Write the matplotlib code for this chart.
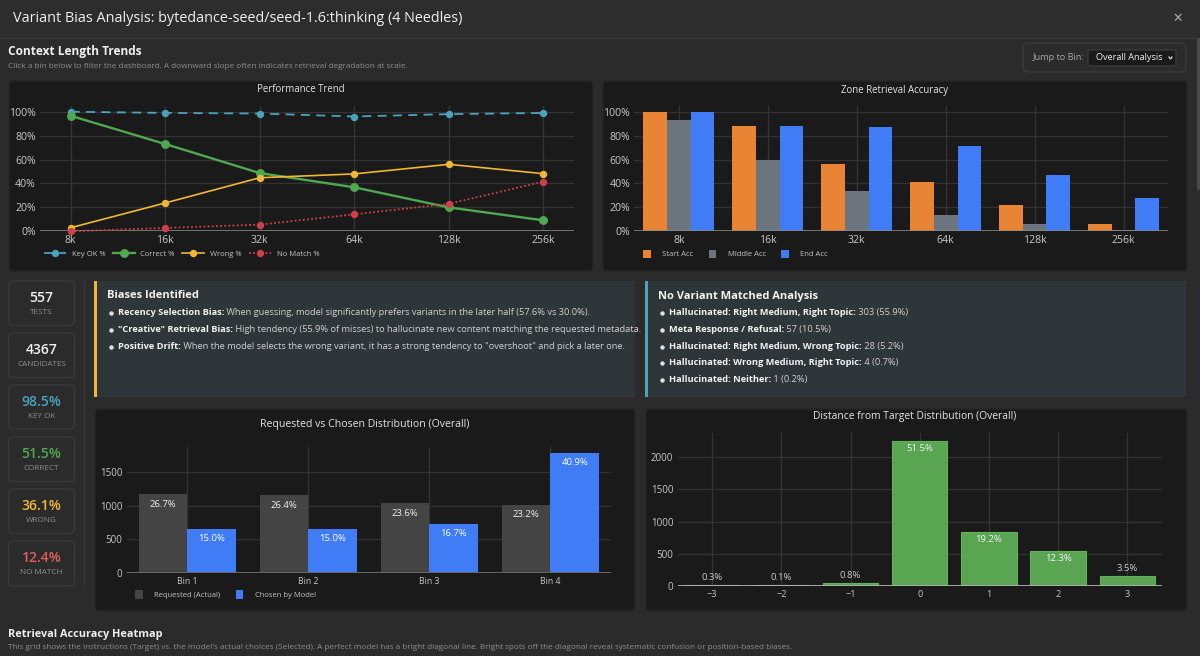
import matplotlib
matplotlib.use("Agg")
import matplotlib.pyplot as plt
from matplotlib.patches import FancyBboxPatch, Rectangle
from matplotlib.ticker import FuncFormatter

plt.rcParams['font.family'] = ['Open Sans', 'DejaVu Sans']

W, H = 1200, 656

# ---------- data ----------
context_bins = ["8k", "16k", "32k", "64k", "128k", "256k"]
key_ok = [100, 99, 98.5, 96, 98, 99]
correct = [96.6, 73, 48.7, 36.8, 20, 9.2]
wrong = [3, 23.7, 44.8, 48, 56, 48.2]
no_match = [0, 2.8, 5.6, 14.2, 23, 41.5]

start_acc = [100, 88, 56.5, 41, 21.7, 6]
middle_acc = [93.5, 60, 33.3, 13.5, 6, 1]
end_acc = [99.5, 88, 87.5, 71, 47.5, 27.7]

dist_bins = ["Bin 1", "Bin 2", "Bin 3", "Bin 4"]
requested = [1166, 1153, 1031, 1013]
chosen = [655, 655, 729, 1786]
requested_lbl = ["26.7%", "26.4%", "23.6%", "23.2%"]
chosen_lbl = ["15.0%", "15.0%", "16.7%", "40.9%"]

offsets = [-3, -2, -1, 0, 1, 2, 3]
offset_counts = [13, 4, 35, 2249, 838, 537, 153]
offset_lbl = ["0.3%", "0.1%", "0.8%", "51.5%", "19.2%", "12.3%", "3.5%"]

stat_values = ["557", "4367", "98.5%", "51.5%", "36.1%", "12.4%"]
stat_labels = ["TESTS", "CANDIDATES", "KEY OK", "CORRECT", "WRONG", "NO MATCH"]

biases = [
    ("Recency Selection Bias:", " When guessing, model significantly prefers variants in the later half (57.6% vs 30.0%)."),
    ("\"Creative\" Retrieval Bias:", " High tendency (55.9% of misses) to hallucinate new content matching the requested metadata."),
    ("Positive Drift:", " When the model selects the wrong variant, it has a strong tendency to \"overshoot\" and pick a later one."),
]
no_variant = [
    ("Hallucinated: Right Medium, Right Topic:", " 303 (55.9%)"),
    ("Meta Response / Refusal:", " 57 (10.5%)"),
    ("Hallucinated: Right Medium, Wrong Topic:", " 28 (5.2%)"),
    ("Hallucinated: Wrong Medium, Right Topic:", " 4 (0.7%)"),
    ("Hallucinated: Neither:", " 1 (0.2%)"),
]

# ---------- colours ----------
PAGE = "#2b2b2b"
PANEL = "#1a1a1a"
CARD = "#2f363a"
GRID = "#333333"
ZERO = "#8a8a8a"
TICK = "#c8c8c8"
C_KEY, C_OK, C_WRONG, C_NOMATCH = "#4aa3bd", "#4fa94f", "#f0b733", "#d0404c"
C_START, C_MIDDLE, C_END = "#e88434", "#6c757d", "#3f7cf5"
C_REQ, C_GREEN = "#444444", "#59a552"

fig = plt.figure(figsize=(W / 100, H / 100), dpi=100, facecolor=PAGE)
bg = fig.add_axes([0, 0, 1, 1], zorder=0)
bg.set_xlim(0, W)
bg.set_ylim(H, 0)
bg.axis("off")


def box(x0, y0, x1, y1, fc, ec="none", r=4, lw=1.0, z=1):
    bg.add_patch(FancyBboxPatch((x0 + r, y0 + r), x1 - x0 - 2 * r, y1 - y0 - 2 * r,
                                boxstyle=f"round,pad={r},rounding_size={r}",
                                fc=fc, ec=ec, lw=lw, zorder=z))


def txt(x, y, s, size=8, color="#dddddd", weight="normal", ha="left", va="center"):
    return bg.text(x, y, s, fontsize=size, color=color, fontweight=weight, ha=ha, va=va, zorder=5)


def run(x, y, bold, rest, size=6.7):
    r = fig.canvas.get_renderer()
    t = txt(x, y, bold, size=size, color="#f2f2f2", weight="bold")
    x1 = t.get_window_extent(r).x1
    txt(x1, y, rest, size=size, color="#d0d0d0")


def plot_axes(x0, x1, ytop, ybot):
    ax = fig.add_axes([x0 / W, 1 - ybot / H, (x1 - x0) / W, (ybot - ytop) / H], zorder=3)
    ax.set_facecolor("none")
    for s in ax.spines.values():
        s.set_visible(False)
    ax.set_axisbelow(True)
    ax.grid(True, color=GRID, lw=1)
    ax.tick_params(length=0, labelsize=7.6, labelcolor=TICK, pad=3)
    return ax


# ---------- page chrome ----------
bg.add_patch(Rectangle((0, 0), W, 37, fc="#2d2d2d", ec="none", zorder=1))
bg.plot([0, W], [37.5, 37.5], color="#3a3a3a", lw=1, zorder=2)
txt(13, 19, "Variant Bias Analysis: bytedance-seed/seed-1.6:thinking (4 Needles)", size=10.4, color="#f0f0f0", weight="medium")
txt(1178, 18, "\u2715", size=9, color="#a8a8a8", ha="center", weight="bold")
bg.add_patch(Rectangle((1197, 38), 3, 152, fc="#4a4a4a", ec="none", zorder=2))

txt(8, 52, "Context Length Trends", size=8.6, color="#f0f0f0", weight="bold")
txt(8, 66, "Click a bin below to filter the dashboard. A downward slope often indicates retrieval degradation at scale.",
    size=5.9, color="#8f8f8f")

box(1023, 43, 1186, 72, "#2b2b2b", ec="#3c3c3c", r=6)
txt(1033, 58, "Jump to Bin:", size=6.6, color="#a8a8a8")
box(1088, 50, 1176, 66, "#1a1a1a", ec="#3a3a3a", r=2)
txt(1096, 58, "Overall Analysis", size=6.6, color="#eeeeee")
bg.plot([1169, 1170.5, 1172], [57, 59, 57], color="#dddddd", lw=0.9, zorder=5)

# panels
box(9, 81, 593, 271, PANEL, ec="#262626")
box(603, 81, 1187, 271, PANEL, ec="#262626")
box(95, 409, 635, 611, PANEL, ec="#262626")
box(646, 409, 1187, 611, PANEL, ec="#262626")

txt(301, 90, "Performance Trend", size=6.9, color="#e4e4e4", ha="center")
txt(895, 90, "Zone Retrieval Accuracy", size=6.9, color="#e4e4e4", ha="center")
txt(365, 424, "Requested vs Chosen Distribution (Overall)", size=7.6, color="#e4e4e4", ha="center")
txt(915, 417, "Distance from Target Distribution (Overall)", size=7.4, color="#e4e4e4", ha="center")

# stat cards
card_y = [(281, 325.5), (333, 377.5), (385, 429), (437, 481.5), (489, 533.5), (541, 586)]
card_col = ["#f0f0f0", "#f0f0f0", "#4aa3bd", "#4fa94f", "#f0b733", "#e0605c"]
for (y0, y1), v, l, c in zip(card_y, stat_values, stat_labels, card_col):
    box(8.5, y0, 74.5, y1, "#2b2b2b", ec="#3a3a3a", r=5)
    txt(41.5, y0 + 17, v, size=10, color=c, weight="semibold", ha="center")
    txt(41.5, y0 + 32, l, size=5.9, color="#8f8f8f", ha="center")
bg.plot([84, 84], [281, 586], color="#363636", lw=1, zorder=2)

# insight cards
bg.add_patch(Rectangle((95, 281), 540, 116, fc=CARD, ec="none", zorder=1))
bg.add_patch(Rectangle((94, 281), 3, 116, fc="#f0b733", ec="none", zorder=2))
txt(107, 296, "Biases Identified", size=8, color="#f2f2f2", weight="bold")
for y, (b, rest) in zip([312.5, 329.5, 346.5], biases):
    bg.plot([110.5], [y], "o", ms=2.2, color="#e0e0e0", zorder=5)
    run(118, y, b, rest)

bg.add_patch(Rectangle((646, 281), 540, 116, fc=CARD, ec="none", zorder=1))
bg.add_patch(Rectangle((645, 281), 3, 116, fc="#4aa3bd", ec="none", zorder=2))
txt(658, 296, "No Variant Matched Analysis", size=8, color="#f2f2f2", weight="bold")
for y, (b, rest) in zip([312.5, 329.5, 346.5, 362.5, 379.5], no_variant):
    bg.plot([661.5], [y], "o", ms=2.2, color="#e0e0e0", zorder=5)
    run(669, y, b, rest)

txt(8, 634, "Retrieval Accuracy Heatmap", size=7.8, color="#f0f0f0", weight="bold")
txt(8, 647.5, "This grid shows the instructions (Target) vs. the model's actual choices (Selected). A perfect model has a bright diagonal line. "
    "Bright spots off the diagonal reveal systematic confusion or position-based biases.", size=5.9, color="#8f8f8f")

pct = FuncFormatter(lambda v, _: f"{int(v)}%")
legend_kw = dict(frameon=False, fontsize=5.5, labelcolor="#c4c4c4", borderpad=0, borderaxespad=0)


def legend_at(ax, handles, labels, px, py, **kw):
    opts = dict(legend_kw)
    opts.update(kw)
    ax.legend(handles, labels, loc="center left",
              bbox_to_anchor=(px, py), bbox_transform=bg.transData, **opts)


# ---------- performance trend ----------
ax = plot_axes(40, 574, 106, 231.3)
xs = list(range(len(context_bins)))
h1, = ax.plot(xs, key_ok, color=C_KEY, lw=1.3, ls=(0, (5, 3.5)), marker="o", ms=4.3, label="Key OK %")
h2, = ax.plot(xs, correct, color=C_OK, lw=1.7, marker="o", ms=5.4, label="Correct %")
h3, = ax.plot(xs, wrong, color=C_WRONG, lw=1.2, marker="o", ms=4.3, label="Wrong %")
h4, = ax.plot(xs, no_match, color=C_NOMATCH, lw=1.3, ls=(0, (1, 1.3)), marker="o", ms=4.3, label="No Match %")
for l in (h1, h2, h3, h4):
    l.set_clip_on(False)
ax.set_xlim(-0.325, 5.325)
ax.set_ylim(0, 104.8)
ax.set_xticks(xs, context_bins)
ax.set_yticks([0, 20, 40, 60, 80, 100])
ax.yaxis.set_major_formatter(pct)
ax.axhline(0, color=ZERO, lw=1.1, zorder=1)
legend_at(ax, [h1, h2, h3, h4], [l.get_label() for l in (h1, h2, h3, h4)], 44, 254, ncol=4,
          handlelength=2.9, handletextpad=0.7, columnspacing=1.0)

# ---------- zone accuracy ----------
ax = plot_axes(634.4, 1168, 106, 231.3)
bw = 0.8 / 3
b1 = ax.bar([x - bw for x in xs], start_acc, bw, color=C_START, label="Start Acc")
b2 = ax.bar(xs, middle_acc, bw, color=C_MIDDLE, label="Middle Acc")
b3 = ax.bar([x + bw for x in xs], end_acc, bw, color=C_END, label="End Acc")
ax.set_xlim(-0.5, 5.5)
ax.set_ylim(0, 104.8)
ax.set_xticks(xs, context_bins)
ax.set_yticks([0, 20, 40, 60, 80, 100])
ax.yaxis.set_major_formatter(pct)
ax.axhline(0, color=ZERO, lw=1.1, zorder=1)
legend_at(ax, [b1, b2, b3], ["Start Acc", "Middle Acc", "End Acc"], 643, 254, ncol=3,
          handlelength=1.0, handleheight=1.4, handletextpad=1.5, columnspacing=2.0)

# ---------- requested vs chosen ----------
ax = plot_axes(126.5, 611, 446.7, 572.7)
xd = list(range(len(dist_bins)))
bw = 0.4
b1 = ax.bar([x - bw / 2 for x in xd], requested, bw, color=C_REQ, label="Requested (Actual)")
b2 = ax.bar([x + bw / 2 for x in xd], chosen, bw, color=C_END, label="Chosen by Model")
ax.set_xlim(-0.5, 3.5)
ax.set_ylim(0, 1877)
ax.set_xticks(xd, dist_bins)
ax.set_yticks([0, 500, 1000, 1500])
ax.tick_params(axis="x", labelsize=6.3)
ax.tick_params(axis="y", labelsize=7)
ax.axhline(0, color="#666666", lw=1.4, zorder=1)
for i in xd:
    ax.annotate(requested_lbl[i], (i - bw / 2, requested[i]), xytext=(0, -7), textcoords="offset points",
                ha="center", va="center", fontsize=6.8, color="#f0f0f0")
    ax.annotate(chosen_lbl[i], (i + bw / 2, chosen[i]), xytext=(0, -7), textcoords="offset points",
                ha="center", va="center", fontsize=6.8, color="#ffffff")
legend_at(ax, [b1, b2], ["Requested (Actual)", "Chosen by Model"], 135, 594.5, ncol=2,
          handlelength=1.0, handleheight=1.4, handletextpad=1.5, columnspacing=2.0)

# ---------- distance from target ----------
ax = plot_axes(677.5, 1162, 433.3, 585.7)
ax.bar(offsets, offset_counts, 0.8, color=C_GREEN, edgecolor="#62b25a", lw=0.8)
ax.set_xlim(-3.5, 3.5)
ax.set_ylim(0, 2374)
ax.set_xticks(offsets, ["\u22123", "\u22122", "\u22121", "0", "1", "2", "3"])
ax.set_yticks([0, 500, 1000, 1500, 2000])
ax.tick_params(axis="x", labelsize=6.6)
ax.tick_params(axis="y", labelsize=7)
ax.axhline(0, color="#b0b0b0", lw=1.3, zorder=1)
for o, c, l in zip(offsets, offset_counts, offset_lbl):
    inside = c > 400
    ax.annotate(l, (o, c), xytext=(0, -5.5 if inside else 5.5), textcoords="offset points",
                ha="center", va="center", fontsize=6.8, color="#f4f4f4" if inside else "#cccccc")

fig.savefig("out.png", dpi=100, facecolor=PAGE)
